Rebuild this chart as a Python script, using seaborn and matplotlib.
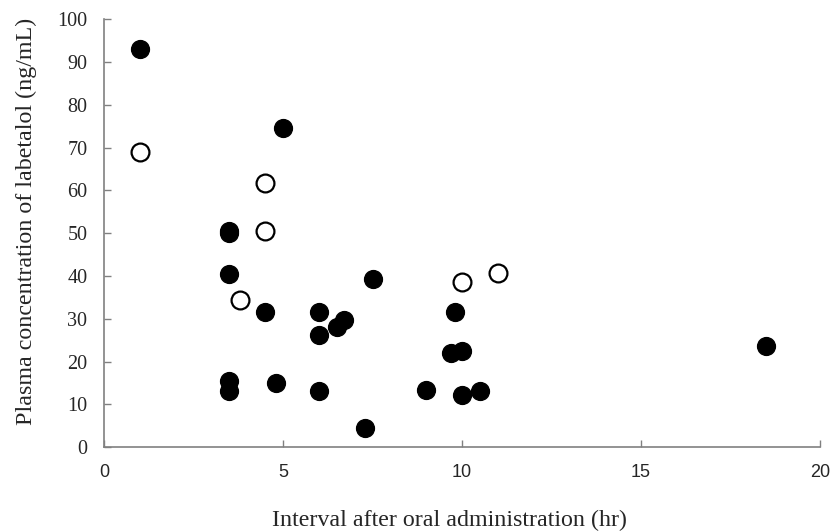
import matplotlib
matplotlib.use("Agg")
import matplotlib.pyplot as plt
import seaborn as sns
import pandas as pd

# filled circles
filled_hr = [1, 5, 3.5, 3.5, 3.5, 4.5, 7.5, 6, 6, 6.5, 6.7, 9.8, 9.7, 10,
             3.5, 3.5, 4.8, 6, 9, 10, 10.5, 7.3, 18.5]
filled_conc = [93, 74.5, 50.5, 50, 40.5, 31.5, 39.2, 31.5, 26.2, 28, 29.8, 31.5, 22, 22.5,
               15.5, 13, 15, 13, 13.3, 12.2, 13, 4.5, 23.6]

# open circles
open_hr = [1, 4.5, 4.5, 3.8, 10, 11]
open_conc = [69, 61.7, 50.5, 34.4, 38.6, 40.6]

x_ticks = [0, 5, 10, 15, 20]
y_ticks = [0, 10, 20, 30, 40, 50, 60, 70, 80, 90, 100]

df_filled = pd.DataFrame({"hr": filled_hr, "conc": filled_conc})
df_open = pd.DataFrame({"hr": open_hr, "conc": open_conc})

sns.set_style("ticks")
plt.rcParams['font.family'] = ['Liberation Serif', 'DejaVu Serif']

fig = plt.figure(figsize=(8.35, 5.31), dpi=100)
ax = fig.add_axes([0.1246, 0.158, 0.8574, 0.806])

sns.scatterplot(data=df_filled, x="hr", y="conc", ax=ax, color="black",
                edgecolor="black", s=165, linewidth=1, zorder=3)
sns.scatterplot(data=df_open, x="hr", y="conc", ax=ax, color="white",
                edgecolor="black", s=165, linewidth=1.6, zorder=3)

ax.set_xlim(0, 20)
ax.set_ylim(0, 100)
ax.set_xticks(x_ticks)
ax.set_yticks(y_ticks)

sns.despine(ax=ax)
for side in ["left", "bottom"]:
    ax.spines[side].set_color("#808080")
    ax.spines[side].set_linewidth(1.2)

ax.tick_params(axis="both", direction="in", color="#808080", length=5, width=1)
ax.tick_params(axis="x", pad=12)
ax.tick_params(axis="y", pad=12)
for lbl in ax.get_xticklabels():
    lbl.set_fontfamily(['Liberation Sans Narrow', 'Liberation Sans', 'DejaVu Sans'])
    lbl.set_fontsize(13)
for lbl in ax.get_yticklabels():
    lbl.set_fontsize(14.5)

ax.set_xlabel("Interval after oral administration (hr)", fontsize=17.3)
ax.set_ylabel("Plasma concentration of labetalol (ng/mL)", fontsize=17.3)
# labels sit a bit off-centre in the original
ax.xaxis.set_label_coords(0.482, -0.146)
ax.yaxis.set_label_coords(-0.094, 0.528)

fig.savefig("out.png", dpi=100)
